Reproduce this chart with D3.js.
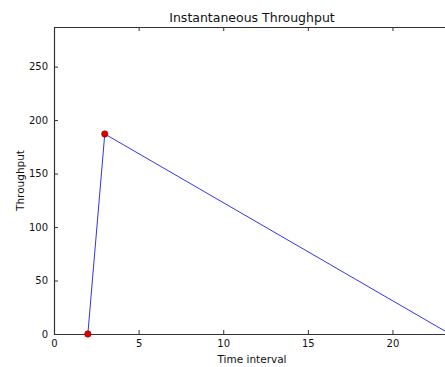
<!DOCTYPE html>
<html><head><meta charset="utf-8">
<script src="https://cdn.jsdelivr.net/npm/d3@7"></script>
<style>body{margin:0;background:#fff;overflow:hidden}svg{display:block;font-family:"DejaVu Sans",sans-serif}</style>
</head><body>
<script>
const timeValues = [2, 3, 23.4];
const throughputValues = [0, 187, 0];
const markerFlags = [true, true, false];
const xTicks = [0, 5, 10, 15, 20];
const yTicks = [0, 50, 100, 150, 200, 250];
const titleText = "Instantaneous Throughput";
const xLabelText = "Time interval";
const yLabelText = "Throughput";

(function () {
const W = 445, H = 367;
const m = {left: 54, top: 27, right: 450, bottom: 334};
const svg = d3.select("body").append("svg").attr("width", W).attr("height", H);
const x = d3.scaleLinear().domain([0, 23.4]).range([m.left, m.right]);
const y = d3.scaleLinear().domain([0, 287]).range([m.bottom, m.top]);

const gBottom = svg.append("g").attr("transform", `translate(0,${m.bottom})`)
  .call(d3.axisBottom(x).tickValues(xTicks).tickSizeInner(-4).tickSizeOuter(0).tickPadding(6).tickFormat(d3.format("d")));
const gLeft = svg.append("g").attr("transform", `translate(${m.left},0)`)
  .call(d3.axisLeft(y).tickValues(yTicks).tickSizeInner(-4).tickSizeOuter(0).tickPadding(6).tickFormat(d3.format("d")));
const gTop = svg.append("g").attr("transform", `translate(0,${m.top})`)
  .call(d3.axisTop(x).tickValues(xTicks).tickSizeInner(-4).tickSizeOuter(0).tickFormat(""));
[gBottom, gLeft, gTop].forEach(g => {
  g.selectAll("path.domain").attr("stroke", "#333").attr("stroke-width", 1.2);
  g.selectAll(".tick line").attr("stroke", "#333");
  g.selectAll(".tick text").attr("font-size", 10).attr("fill", "#111").attr("font-family", "DejaVu Sans");
});

const pts = timeValues.map((t, i) => ({t, v: throughputValues[i], mk: markerFlags[i]}));
svg.append("path").datum(pts)
  .attr("fill", "none").attr("stroke", "#3333ee").attr("stroke-width", 1)
  .attr("d", d3.line().x(d => x(d.t)).y(d => y(d.v)));
svg.selectAll("circle.pt").data(pts.filter(d => d.mk)).join("circle")
  .attr("cx", d => x(d.t)).attr("cy", d => y(d.v)).attr("r", 3.2)
  .attr("fill", "#dd0000").attr("stroke", "#990000").attr("stroke-width", 0.6);

svg.append("text").attr("x", (m.left + m.right) / 2).attr("y", 22).attr("text-anchor", "middle")
  .attr("font-size", 12.5).attr("fill", "#111").text(titleText);
svg.append("text").attr("x", (m.left + m.right) / 2).attr("y", 363).attr("text-anchor", "middle")
  .attr("font-size", 10.5).attr("fill", "#111").text(xLabelText);
svg.append("text").attr("transform", `translate(24,${(m.top + m.bottom) / 2}) rotate(-90)`).attr("text-anchor", "middle")
  .attr("font-size", 10.5).attr("fill", "#111").text(yLabelText);
})();
</script>
</body></html>
